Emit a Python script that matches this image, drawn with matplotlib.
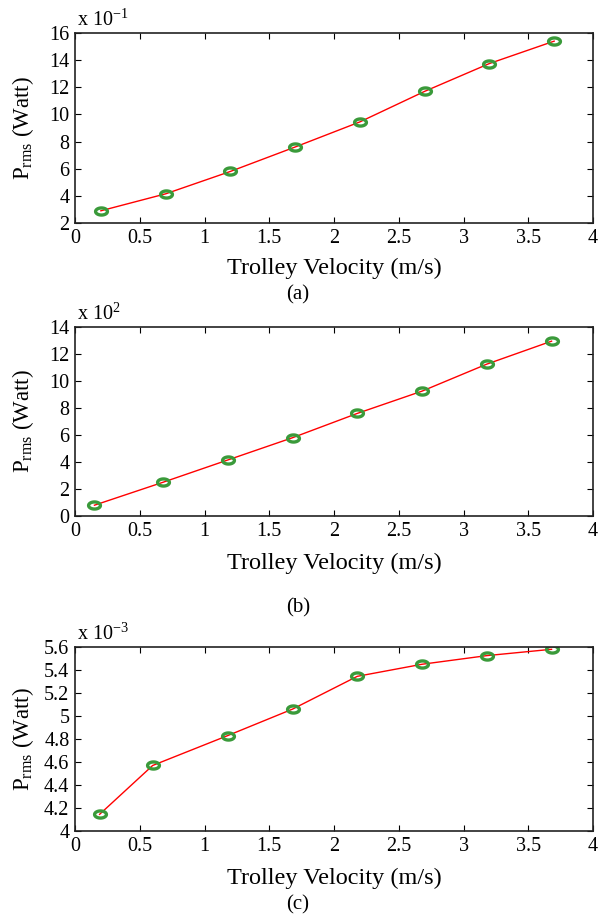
import numpy as np
import matplotlib
matplotlib.use("Agg")
import matplotlib.pyplot as plt
from matplotlib.path import Path

plt.rcParams["font.family"] = ["Liberation Serif", "DejaVu Serif"]
plt.rcParams["mathtext.fontset"] = "custom"
plt.rcParams["mathtext.rm"] = "Liberation Serif"
plt.rcParams["mathtext.it"] = "Liberation Serif:italic"

# ---------------------------------------------------------------
# data (y values in units of the axis multiplier)
# ---------------------------------------------------------------
vel_a = [0.2, 0.7, 1.2, 1.7, 2.2, 2.7, 3.2, 3.7]
p_a = [2.9, 4.15, 5.8, 7.6, 9.45, 11.7, 13.75, 15.4]

vel_b = [0.15, 0.68, 1.18, 1.68, 2.18, 2.68, 3.18, 3.68]
p_b = [0.8, 2.5, 4.15, 5.8, 7.6, 9.25, 11.25, 12.95]

vel_c = [0.19, 0.6, 1.18, 1.68, 2.18, 2.68, 3.18, 3.68]
p_c = [4.145, 4.57, 4.83, 5.06, 5.345, 5.45, 5.525, 5.58]

panels = [
    dict(x=vel_a, y=p_a, ylim=(2, 16), yticks=np.arange(2, 17, 2), ytl=None,
         mult=r"x 10$^{\mathregular{-1}}$", cap="(a)", pos=(223, 190), xl_y=268, cap_y=295),
    dict(x=vel_b, y=p_b, ylim=(0, 14), yticks=np.arange(0, 15, 2), ytl=None,
         mult=r"x 10$^{\mathregular{2}}$", cap="(b)", pos=(516, 189), xl_y=563, cap_y=608),
    dict(x=vel_c, y=p_c, ylim=(4, 5.6), yticks=np.arange(4, 5.61, 0.2),
         ytl=["4", "4.2", "4.4", "4.6", "4.8", "5", "5.2", "5.4", "5.6"],
         mult=r"x 10$^{\mathregular{-3}}$", cap="(c)", pos=(831, 184), xl_y=878, cap_y=905),
]

W, H = 600, 923
fig = plt.figure(figsize=(W / 100, H / 100), dpi=100)

# flat ellipse marker like the original
t = np.linspace(0, 2 * np.pi, 60)
ell = Path(np.column_stack([np.cos(t), 0.6 * np.sin(t)]), closed=True)

left, right = 75, 593
for p in panels:
    bot, hh = p["pos"]
    ax = fig.add_axes([left / W, 1 - bot / H, (right - left) / W, hh / H])
    ax.plot(p["x"], p["y"], color="red", lw=1.0, marker=ell, ms=8.5,
            mfc="none", mec="#3a9a3a", mew=2.4)
    ax.set_xlim(0, 4)
    ax.set_ylim(*p["ylim"])
    ax.set_xticks(np.arange(0, 4.01, 0.5))
    ax.set_xticklabels(["0", "0.5", "1", "1.5", "2", "2.5", "3", "3.5", "4"])
    ax.set_yticks(p["yticks"])
    if p["ytl"]:
        ax.set_yticklabels(p["ytl"])
    ax.tick_params(direction="in", top=True, right=True, labelsize=14.5,
                   length=4, width=0.8, pad=4)
    for s in ax.spines.values():
        s.set_linewidth(1.2)
        s.set_color("#222222")
    ax.set_ylabel(r"P$_{\mathregular{rms}}$ (Watt)", fontsize=16.5)
    ax.yaxis.set_label_coords((36 - left) / (right - left), 0.5)
    ax.text(0.004, 1.01, p["mult"], transform=ax.transAxes, fontsize=14.5,
            ha="left", va="bottom")
    fig.text((left + right) / 2 / W, 1 - p["xl_y"] / H, "Trolley Velocity (m/s)",
             fontsize=17.5, ha="center", va="center")
    fig.text(298 / W, 1 - p["cap_y"] / H, p["cap"], fontsize=15,
             ha="center", va="center")

plt.savefig("out.png", dpi=100)
plt.close()
